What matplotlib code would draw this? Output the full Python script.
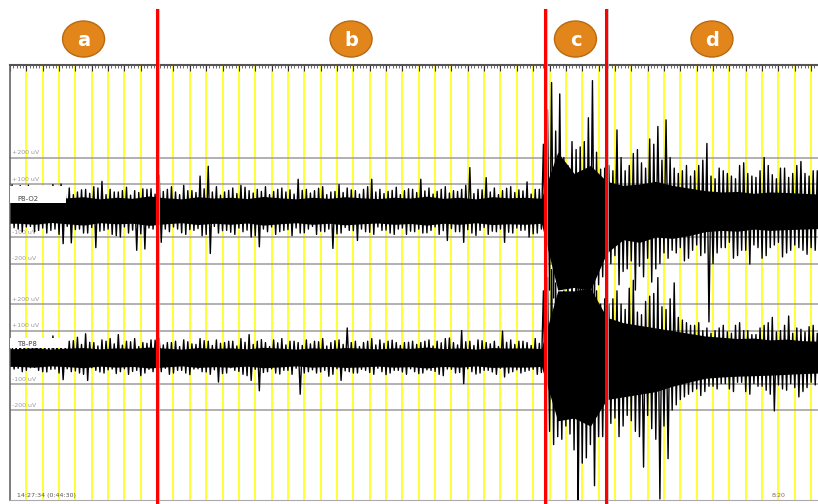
import numpy as np
import matplotlib
matplotlib.use('Agg')
import matplotlib.pyplot as plt
from matplotlib.patches import Ellipse, Rectangle

# peak values (uV), two interleaved sets: "a" samples on the half second,
# "b" samples a quarter second later
p8o2_hi_a = [96, 94, 96, 80, 85, 98, 100, 85, 70, 80,
             90, 110, 80, 70, 88, 75, 82, 82, 133, 80,
             70, 95, 75, 130, 167, 90, 70, 85, 95, 75,
             80, 90, 72, 85, 78, 118, 80, 75, 90, 70,
             98, 85, 75, 80, 118, 80, 72, 88, 75, 80,
             118, 85, 72, 90, 75, 80, 162, 80, 124, 85,
             75, 90, 78, 108, 80, 250, 483, 440, 170, 230,
             260, 490, 156, 170, 304, 150, 215, 180, 270, 317,
             342, 160, 150, 130, 170, 253, 120, 150, 130, 170,
             140, 125, 200, 135, 160, 125, 170, 140, 150]
p8o2_hi_b = [70, 62, 75, 58, 80, 66, 72, 60, 78, 65,
             85, 60, 70, 75, 58, 68, 80, 62, 72, 90,
             60, 75, 68, 82, 70, 58, 76, 64, 88, 66,
             72, 60, 80, 70, 62, 76, 66, 84, 60, 72,
             68, 78, 62, 90, 70, 64, 76, 60, 82, 68,
             74, 62, 80, 66, 72, 95, 64, 78, 70, 60,
             84, 68, 74, 62, 80, 380, 300, 200, 260, 240,
             350, 220, 160, 150, 200, 170, 230, 160, 250, 190,
             200, 140, 170, 150, 190, 130, 160, 140, 120, 180,
             130, 150, 170, 120, 160, 140, 185, 130, 150]
p8o2_lo_a = [-65, -80, -60, -75, -85, -70, -125, -122, -70, -85,
             -140, -75, -90, -100, -85, -150, -145, -70, -120, -80,
             -70, -90, -75, -95, -162, -85, -75, -90, -80, -100,
             -137, -80, -90, -75, -95, -85, -70, -90, -80, -143,
             -85, -75, -113, -80, -90, -75, -85, -70, -90, -80,
             -85, -75, -90, -113, -80, -120, -85, -75, -90, -80,
             -120, -85, -75, -100, -85, -250, -330, -280, -200, -320,
             -300, -330, -250, -200, -280, -220, -300, -250, -270, -200,
             -180, -160, -190, -150, -170, -420, -160, -140, -180, -150,
             -202, -140, -170, -130, -175, -150, -140, -165, -150]
p8o2_lo_b = [-70, -62, -80, -66, -75, -90, -60, -72, -85, -64,
             -78, -70, -95, -62, -74, -88, -66, -80, -70, -62,
             -84, -72, -68, -90, -60, -76, -82, -66, -74, -95,
             -70, -62, -80, -72, -66, -84, -60, -78, -70, -88,
             -64, -76, -70, -82, -62, -74, -90, -66, -78, -70,
             -84, -62, -76, -68, -80, -72, -94, -64, -78, -70,
             -82, -66, -74, -88, -70, -300, -260, -240, -280, -300,
             -260, -280, -220, -170, -230, -190, -210, -180, -220, -160,
             -150, -140, -180, -130, -160, -200, -140, -120, -170, -150,
             -130, -180, -140, -120, -160, -130, -150, -140, -120]

t8p8_hi_a = [50, 55, 45, 60, 50, 80, 60, 60, 75, 88,
             55, 65, 70, 85, 60, 70, 55, 65, 70, 55,
             60, 65, 50, 70, 60, 65, 55, 60, 70, 85,
             60, 55, 65, 70, 60, 55, 65, 60, 70, 55,
             65, 110, 60, 55, 70, 65, 60, 55, 55, 60,
             55, 65, 60, 70, 55, 100, 60, 65, 55, 60,
             98, 65, 60, 55, 70, 250, 330, 160, 300, 350,
             330, 280, 200, 200, 250, 180, 290, 160, 230, 300,
             180, 280, 140, 120, 130, 110, 100, 120, 90, 130,
             100, 85, 120, 150, 100, 155, 110, 95, 120]
t8p8_hi_b = [40, 48, 36, 50, 44, 55, 40, 62, 48, 56,
             42, 60, 50, 45, 58, 40, 52, 64, 46, 55,
             40, 58, 48, 62, 44, 52, 60, 42, 56, 48,
             66, 40, 54, 46, 60, 44, 50, 58, 42, 62,
             48, 55, 40, 60, 46, 52, 64, 44, 56, 48,
             60, 42, 54, 72, 46, 58, 44, 62, 50, 40,
             56, 48, 60, 44, 52, 300, 280, 250, 320, 300,
             260, 250, 220, 220, 200, 260, 170, 210, 240, 190,
             220, 150, 130, 120, 100, 90, 110, 95, 120, 100,
             85, 110, 130, 95, 120, 90, 105, 115, 90]
t8p8_lo_a = [-45, -55, -40, -50, -56, -45, -85, -55, -60, -88,
             -50, -60, -45, -55, -65, -50, -60, -55, -55, -65,
             -50, -60, -45, -55, -65, -94, -60, -50, -65, -88,
             -127, -55, -60, -50, -65, -140, -55, -60, -50, -65,
             -88, -55, -60, -50, -65, -55, -60, -50, -65, -55,
             -60, -50, -65, -45, -60, -100, -55, -60, -50, -65,
             -75, -55, -60, -50, -65, -250, -330, -310, -290, -565,
             -380, -485, -300, -250, -300, -220, -280, -415, -270, -535,
             -383, -180, -150, -130, -145, -110, -120, -100, -130, -95,
             -140, -110, -125, -203, -120, -100, -150, -115, -105]
t8p8_lo_b = [-42, -50, -38, -55, -46, -60, -44, -52, -65, -40,
             -56, -48, -62, -44, -54, -70, -46, -58, -42, -60,
             -50, -66, -44, -56, -48, -62, -40, -54, -70, -46,
             -58, -44, -64, -50, -42, -60, -48, -56, -72, -44,
             -52, -60, -46, -58, -42, -66, -50, -56, -44, -62,
             -48, -54, -70, -46, -58, -44, -64, -50, -56, -42,
             -60, -48, -54, -46, -58, -280, -300, -260, -350, -400,
             -330, -300, -260, -230, -260, -240, -300, -220, -310, -260,
             -200, -160, -140, -120, -130, -110, -100, -120, -95, -130,
             -100, -110, -140, -105, -125, -115, -130, -95, -110]

# dense middle of each trace, one value per second (t = 0.5, 1.5, ...)
p8o2_core_hi = [45, 50, 42, 48, 52, 44, 50, 46, 55, 48,
                44, 52, 47, 50, 45, 53, 48, 44, 50, 46,
                52, 48, 45, 50, 47, 54, 46, 50, 44, 52,
                48, 50, 46, 220, 140, 170, 110, 95, 100, 110,
                95, 85, 75, 70, 72, 65, 70, 68, 65, 62]
p8o2_core_lo = [-48, -52, -45, -50, -55, -46, -50, -48, -56, -50,
                -46, -53, -48, -52, -47, -55, -50, -46, -52, -48,
                -54, -50, -47, -52, -49, -55, -48, -52, -46, -53,
                -50, -52, -48, -300, -290, -300, -160, -110, -120, -100,
                -105, -95, -80, -75, -78, -70, -75, -72, -70, -68]
t8p8_core_hi = [32, 35, 30, 34, 36, 31, 35, 33, 38, 34,
                30, 36, 33, 35, 31, 37, 34, 30, 35, 32,
                36, 34, 31, 35, 33, 38, 32, 35, 30, 36,
                34, 35, 32, 250, 250, 260, 150, 130, 120, 110,
                100, 90, 80, 75, 70, 72, 65, 68, 62, 60]
t8p8_core_lo = [-35, -38, -33, -36, -40, -34, -38, -35, -41, -37,
                -33, -39, -36, -38, -34, -40, -37, -33, -38, -35,
                -39, -37, -34, -38, -36, -41, -35, -38, -33, -39,
                -37, -38, -35, -240, -230, -260, -160, -150, -140, -130,
                -110, -95, -80, -75, -72, -70, -68, -65, -62, -60]

channels = ['P8-O2', 'T8-P8']
offsets = [0, -553]
ref_levels = [200, 100, -100, -200]
seg_edges = [0, 9.0, 32.72, 36.45, 49.42]
seg_names = ['a', 'b', 'c', 'd']

fig = plt.figure(figsize=(8.18, 5.04), dpi=100)
ax = fig.add_axes([10/818, 4/504, 808/818, 435/504])
ax.set_xlim(0, 49.42)
ax.set_ylim(-1092, 549)

for g in range(1, 50):
    ax.axvline(g, color='#ffff30', lw=1.4, zorder=1)

for off in offsets:
    for lv in ref_levels:
        ax.axhline(off + lv, color='#9c9c9c', lw=1.1, zorder=1.5)
        lab = ('+%d uV' % lv) if lv > 0 else ('%d uV' % lv)
        ax.text(0.12, off + lv + 8, lab, fontsize=4.5, color='#9a9a9a',
                va='bottom', ha='left', zorder=1.6)

n = len(p8o2_hi_a)
t = 0.125 + 0.5 * np.arange(n)
tc = 0.5 + np.arange(len(p8o2_core_hi))

def zigzag(hi_a, lo_a, hi_b, lo_b):
    tz = np.empty(4 * n)
    yz = np.empty(4 * n)
    tz[0::4], yz[0::4] = t, hi_a
    tz[1::4], yz[1::4] = t + 0.125, lo_a
    tz[2::4], yz[2::4] = t + 0.25, hi_b
    tz[3::4], yz[3::4] = t + 0.375, lo_b
    return tz, yz

traces = [(p8o2_hi_a, p8o2_lo_a, p8o2_hi_b, p8o2_lo_b, p8o2_core_hi, p8o2_core_lo),
          (t8p8_hi_a, t8p8_lo_a, t8p8_hi_b, t8p8_lo_b, t8p8_core_hi, t8p8_core_lo)]
for off, (ha, la, hb, lb, chi, clo) in zip(offsets, traces):
    tz, yz = zigzag(ha, la, hb, lb)
    ax.plot(tz, yz + off, color='black', lw=1.0, zorder=3)
    tcx = np.r_[0, tc, 49.5]
    ax.fill_between(tcx, np.r_[chi[0], chi, chi[-1]] + off,
                    np.r_[clo[0], clo, clo[-1]] + off,
                    color='black', lw=0, zorder=3)

# channel labels on white strips
ax.add_patch(Rectangle((0, offsets[0] + 28), 3.4, 64, fc='white', ec='none', zorder=4))
ax.text(0.45, offsets[0] + 42, channels[0], fontsize=5, color='#444444',
        va='center', ha='left', zorder=4.5)
ax.add_patch(Rectangle((0, offsets[1] + 34), 3.4, 40, fc='white', ec='none', zorder=4))
ax.text(0.45, offsets[1] + 50, channels[1], fontsize=5, color='#444444',
        va='center', ha='left', zorder=4.5)

# segment markers
for e in seg_edges[1:-1]:
    ax.plot([e + 0.14, e + 0.14], [-1110, 757], color='#bbbbbb', lw=1.4,
            alpha=0.8, clip_on=False, zorder=5)
    ax.plot([e, e], [-1110, 757], color='#ff0000', lw=2.2,
            clip_on=False, zorder=6)

for i, name in enumerate(seg_names):
    xm = (seg_edges[i] + seg_edges[i + 1]) / 2
    ax.add_patch(Ellipse((xm, 647), 2.57, 136, fc='#e2851a', ec='#b86a12',
                         lw=1, clip_on=False, zorder=7))
    ax.text(xm, 642, name, color='white', fontsize=14, fontweight='bold',
            ha='center', va='center', zorder=8)

ax.text(0.45, -1085, '14:27:34 (0:44:30)', fontsize=4.5, color='#555555',
        ha='left', va='bottom', zorder=4)
ax.text(46.6, -1085, '8:20', fontsize=4.5, color='#886666',
        ha='left', va='bottom', zorder=4)

ax.xaxis.tick_top()
ax.set_xticks(np.arange(0, 50, 1))
ax.set_xticks(np.arange(0, 49.4, 0.2), minor=True)
ax.tick_params(axis='x', which='major', direction='in', length=4, width=0.8,
               color='#333333', labeltop=False, labelbottom=False)
ax.tick_params(axis='x', which='minor', direction='in', length=2, width=0.6,
               color='#555555')
ax.set_yticks([])
ax.spines['top'].set_color('#555555')
ax.spines['top'].set_linewidth(1.5)
ax.spines['left'].set_color('#666666')
ax.spines['left'].set_linewidth(1.2)
ax.spines['bottom'].set_color('#aaaaaa')
ax.spines['right'].set_visible(False)

plt.savefig('out.png', dpi=100)
